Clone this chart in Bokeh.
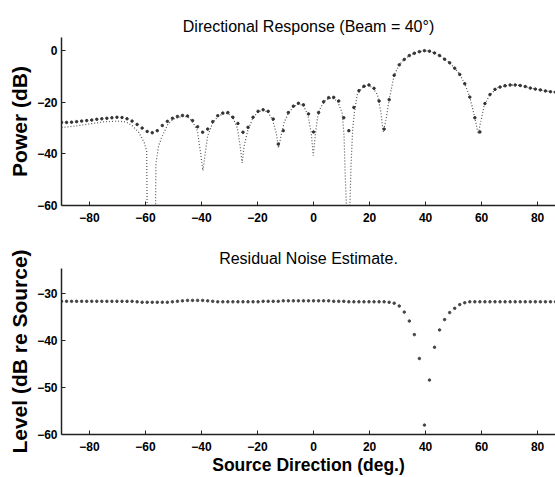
from bokeh.plotting import figure
from bokeh.layouts import column
from bokeh.models import Range1d, FixedTicker
from bokeh.embed import file_html
from bokeh.resources import INLINE

# ---- data ----
# sampled grid angles (deg)
grid_deg = [-90.0, -88.2, -86.4, -84.6, -82.8, -81.0, -79.2, -77.4, -75.6, -73.8,
            -72.0, -70.2, -68.4, -66.6, -64.8, -63.0, -61.2, -59.4, -57.6, -55.8,
            -54.0, -52.2, -50.4, -48.6, -46.8, -45.0, -43.2, -41.4, -39.6, -37.8,
            -36.0, -34.2, -32.4, -30.6, -28.8, -27.0, -25.2, -23.4, -21.6, -19.8,
            -18.0, -16.2, -14.4, -12.6, -10.8, -9.0, -7.2, -5.4, -3.6, -1.8,
            0.0, 1.8, 3.6, 5.4, 7.2, 9.0, 10.8, 12.6, 14.4, 16.2,
            18.0, 19.8, 21.6, 23.4, 25.2, 27.0, 28.8, 30.6, 32.4, 34.2,
            36.0, 37.8, 39.6, 41.4, 43.2, 45.0, 46.8, 48.6, 50.4, 52.2,
            54.0, 55.8, 57.6, 59.4, 61.2, 63.0, 64.8, 66.6, 68.4, 70.2,
            72.0, 73.8, 75.6, 77.4, 79.2, 81.0, 82.8, 84.6, 86.4]

# directional response, sampled (dB)
resp_db = [-27.8, -27.8, -27.7, -27.5, -27.3, -27.1, -26.9, -26.6, -26.4, -26.2,
           -26.0, -25.8, -25.9, -26.4, -27.3, -28.6, -30.0, -31.3, -31.8, -31.0,
           -29.0, -27.4, -26.2, -25.5, -25.1, -25.3, -27.1, -29.5, -31.6, -30.4,
           -27.5, -25.2, -24.2, -24.0, -25.8, -28.2, -31.6, -29.7, -25.8, -23.5,
           -22.9, -23.5, -26.5, -36.2, -31.0, -24.0, -21.5, -20.4, -21.0, -24.5,
           -31.5, -24.0, -19.8, -18.2, -18.1, -19.5, -26.0, -31.0, -22.0, -15.5,
           -13.8, -13.3, -14.6, -19.5, -30.4, -19.0, -9.5, -5.5, -3.4, -1.9,
           -1.0, -0.4, 0.0, -0.2, -0.9, -1.9, -3.3, -4.7, -6.8, -9.2,
           -12.8, -18.0, -26.0, -31.5, -20.5, -17.0, -15.0, -14.1, -13.6, -13.3,
           -13.3, -13.5, -13.9, -14.5, -14.9, -15.2, -15.6, -15.9, -16.1]

# directional response, fine trace (deg, dB)
fine_deg = [-90, -85, -80, -75, -70, -67, -64.8, -62.4, -60.5, -59.6, -59.3, -56.5,
            -56.3, -55.3, -54, -52, -50, -47, -45, -43.2, -41.5, -40.3, -39.5,
            -38.7, -37.8, -36, -34.2, -32.4, -30.6, -28.8, -27.2, -26.2, -25.5,
            -24.8, -23.5, -21.6, -19.8, -18, -16.2, -14.6, -13.3, -12.5, -11.6,
            -10.4, -9, -7.2, -5.4, -3.6, -2, -0.8, -0.1, 0.6, 1.4, 2.5, 4.4, 6.5,
            8.5, 10.2, 10.9, 11.3, 12.3, 12.6, 13.4, 14.0, 14.6, 15.6, 17.4, 19.4,
            21.2, 22.8, 24, 24.9, 26, 27, 28.8, 30.6, 32.4, 34.2, 36, 37.8, 39.6,
            41.4, 43.2, 45, 46.8, 48.6, 50.4, 52.2, 54, 55.8, 57.6, 58.8, 59.6,
            61, 63, 66, 70, 74, 78, 82, 86.4]
fine_db = [-29.8, -29.2, -28.4, -27.6, -27.3, -27.6, -29.0, -31.7, -35.5, -38.8, -75, -75,
           -43.8, -36.8, -33, -28.5, -26.5, -25.5, -25.6, -27.5, -31, -40, -46.5,
           -40, -33, -28, -25.5, -24.5, -24.3, -26, -30, -37, -43.5,
           -37, -31, -26, -23.7, -23.1, -23.8, -27, -32, -37.7, -33,
           -27.5, -24.3, -21.8, -20.7, -21.3, -25, -32, -40.7, -33, -26, -22, -19, -18.3,
           -19.5, -24, -33, -48, -75, -75, -44, -30, -24, -17, -14.4, -13.4,
           -14.4, -17, -23.5, -31.5, -26, -19, -9.5, -5.5, -3.4, -1.9, -1.0, -0.4, 0,
           -0.2, -0.9, -1.9, -3.3, -4.7, -6.8, -9.2, -12.8, -18, -26, -32.3, -28,
           -21, -17, -14.2, -13.3, -13.5, -14.6, -15.5, -16.1]

# residual noise estimate, sampled (dB re source)
noise_db = [-31.6, -31.6, -31.6, -31.6, -31.6, -31.6, -31.6, -31.6, -31.6, -31.6,
            -31.6, -31.6, -31.6, -31.6, -31.6, -31.7, -31.8, -31.8, -31.8, -31.8,
            -31.8, -31.8, -31.7, -31.6, -31.5, -31.4, -31.4, -31.4, -31.4, -31.5,
            -31.6, -31.7, -31.7, -31.7, -31.7, -31.7, -31.7, -31.7, -31.7, -31.7,
            -31.6, -31.6, -31.6, -31.6, -31.5, -31.5, -31.5, -31.5, -31.5, -31.5,
            -31.5, -31.5, -31.5, -31.5, -31.6, -31.6, -31.6, -31.7, -31.7, -31.7,
            -31.7, -31.7, -31.7, -31.7, -31.7, -31.8, -32.0, -32.6, -33.9, -35.8,
            -38.7, -43.8, -58.0, -48.4, -41.4, -37.7, -35.5, -34.0, -33.1, -32.3,
            -31.9, -31.7, -31.7, -31.7, -31.7, -31.7, -31.7, -31.7, -31.7, -31.7,
            -31.7, -31.7, -31.7, -31.7, -31.7, -31.7, -31.7, -31.7, -31.7]

x_ticks = [-80, -60, -40, -20, 0, 20, 40, 60, 80]
resp_ticks = [-60, -40, -20, 0]
noise_ticks = [-60, -50, -40, -30]

FONT = "Liberation Sans"


def style(p, yticks):
    p.outline_line_color = None
    p.xgrid.visible = False
    p.ygrid.visible = False
    p.background_fill_color = "white"
    p.border_fill_color = "white"
    p.xaxis.ticker = FixedTicker(ticks=x_ticks)
    p.yaxis.ticker = FixedTicker(ticks=yticks)
    for ax in p.xaxis + p.yaxis:
        ax.axis_line_color = "#222222"
        ax.axis_line_width = 1.5
        ax.major_tick_in = 4
        ax.major_tick_out = 0
        ax.major_tick_line_color = "#222222"
        ax.minor_tick_line_color = None
        ax.major_label_text_font = FONT
        ax.major_label_text_font_style = "bold"
        ax.major_label_text_font_size = "12px"
        ax.major_label_text_color = "black"
        ax.axis_label_text_font = FONT
        ax.axis_label_text_font_style = "bold"
        ax.axis_label_text_font_size = "21px"
        ax.axis_label_text_color = "black"
    p.yaxis.major_label_standoff = 4
    p.xaxis.major_label_standoff = 7
    p.yaxis.axis_label_standoff = 3
    p.title.text_font = FONT
    p.title.text_font_style = "normal"
    p.title.text_font_size = "16px"
    p.title.align = "center"
    p.title.text_color = "black"


p1 = figure(width=555, height=235, x_range=Range1d(-90, 86.4), y_range=Range1d(-60, 5.1),
            output_backend="svg", toolbar_location=None,
            min_border_left=61, min_border_right=0, min_border_top=37, min_border_bottom=30,
            title="Directional Response (Beam = 40\u00b0)")
style(p1, resp_ticks)
p1.title.standoff = 6
p1.yaxis.axis_label = "Power (dB)"
p1.line(fine_deg, fine_db, line_color="#555555", line_width=1.2, line_dash="1 2")
p1.scatter(grid_deg, resp_db, size=2.5, color="#333333", marker="circle")

p2 = figure(width=555, height=242, x_range=Range1d(-90, 86.4), y_range=Range1d(-60, -24.6),
            output_backend="svg", toolbar_location=None,
            min_border_left=61, min_border_right=0, min_border_top=33, min_border_bottom=43,
            title="Residual Noise Estimate.")
style(p2, noise_ticks)
p2.title.standoff = 3
p2.yaxis.axis_label = "Level (dB re Source)"
p2.xaxis.axis_label = "Source Direction (deg.)"
p2.xaxis.axis_label_text_font_size = "17.5px"
p2.xaxis.axis_label_standoff = 1
p2.scatter(grid_deg, noise_db, size=2.5, color="#444444", marker="circle")

layout = column(p1, p2, spacing=0)
open("out.html", "w").write(file_html(layout, INLINE))
